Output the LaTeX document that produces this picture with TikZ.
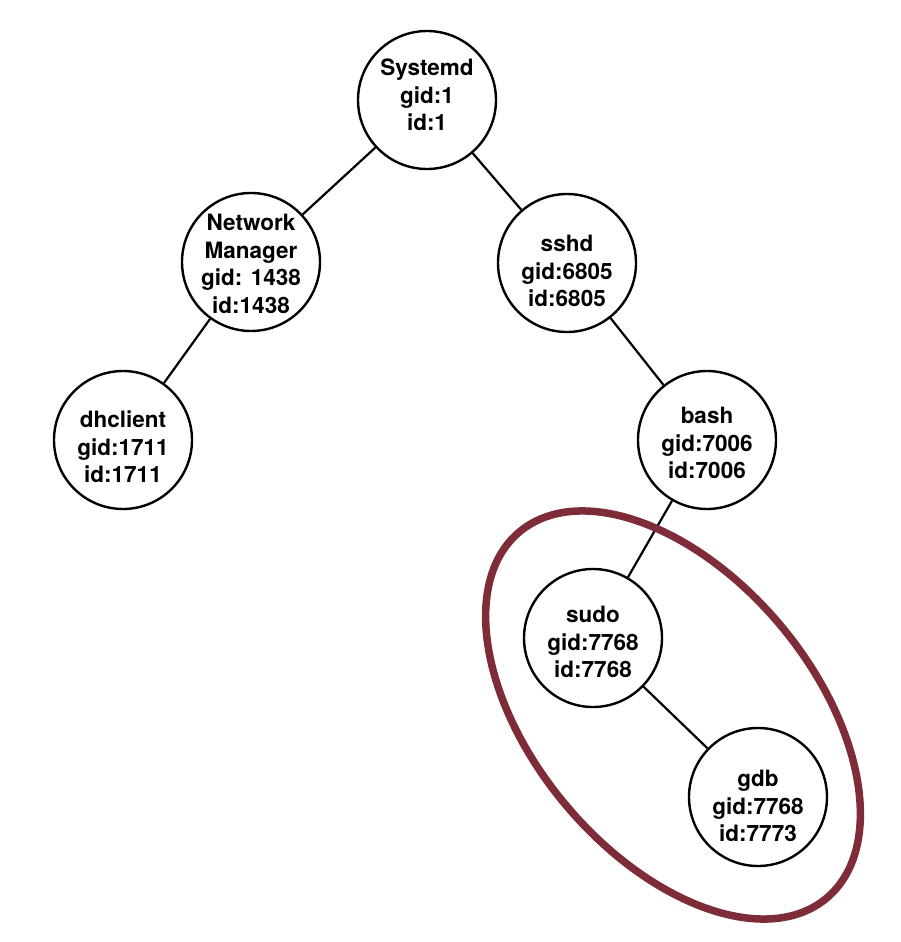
\documentclass[tikz,border=0pt]{standalone}
\usepackage{fontspec}
\setmainfont{TeX Gyre Heros}
\definecolor{groupred}{RGB}{126,44,56}
\begin{document}
\begin{tikzpicture}[x=1pt,y=-1pt,
  proc/.style={circle, draw=black, line width=2.4pt, fill=white, minimum size=138pt, inner sep=0pt},
  txt/.style={align=center, inner sep=0pt,
    font=\fontsize{22.5}{27.5}\selectfont\bfseries},
  link/.style={draw=black, line width=2.2pt},
  group/.style={draw=groupred, line width=7.5pt}]
\useasboundingbox (0,0) rectangle (900,942);

% process tree
\node[proc, label={[txt, yshift=5pt]center:Systemd\\gid:1\\id:1}] (sys) at (427,100) {};
\node[proc, label={[txt, yshift=-2pt]center:Network\\Manager\\gid: 1438\\id:1438}] (nm) at (251,262) {};
\node[proc, label={[txt, yshift=-8pt]center:sshd\\gid:6805\\id:6805}] (sshd) at (567,263) {};
\node[proc, label={[txt, yshift=-7pt]center:dhclient\\gid:1711\\id:1711}] (dh) at (123,440) {};
\node[proc, label={[txt, yshift=-3pt]center:bash\\gid:7006\\id:7006}] (bash) at (707,440) {};
\node[proc, label={[txt, yshift=-4pt]center:sudo\\gid:7768\\id:7768}] (sudo) at (593,638) {};
\node[proc, label={[txt, yshift=-9pt]center:gdb\\gid:7768\\id:7773}] (gdb) at (758,797) {};

% parent-child links
\draw[link] (sys) -- (nm);
\draw[link] (sys) -- (sshd);
\draw[link] (nm) -- (dh);
\draw[link] (sshd) -- (bash);
\draw[link] (bash) -- (sudo);
\draw[link] (sudo) -- (gdb);

% highlighted sudo/gdb group
\coordinate (gc) at (673,715);
\draw[group, rotate around={-50:(gc)}] (gc) ellipse [x radius=239pt, y radius=140pt];
\end{tikzpicture}
\end{document}
